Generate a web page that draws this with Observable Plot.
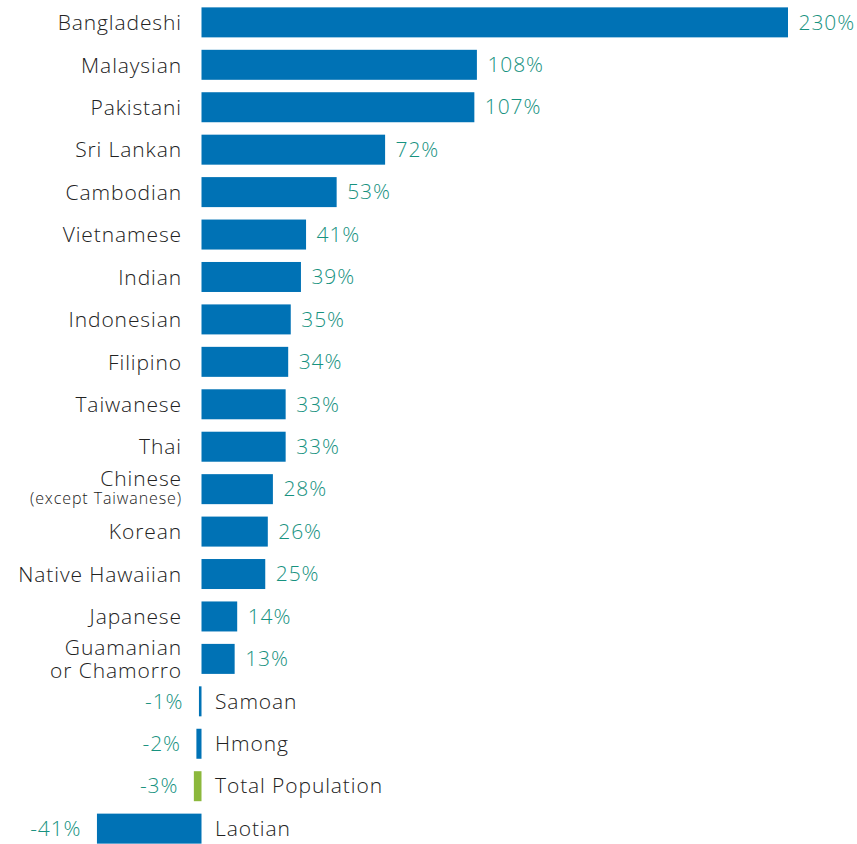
<!DOCTYPE html>
<html>
<head>
<meta charset="utf-8">
<script src="https://cdn.jsdelivr.net/npm/d3@7"></script>
<script src="https://cdn.jsdelivr.net/npm/@observablehq/plot@0.6"></script>
<style>
  html, body { margin: 0; padding: 0; background: #fff; }
  #chart svg { display: block; }
</style>
</head>
<body>
<div id="chart"></div>
<script>
const categories = ["Bangladeshi","Malaysian","Pakistani","Sri Lankan","Cambodian","Vietnamese","Indian","Indonesian","Filipino","Taiwanese","Thai","Chinese","Korean","Native Hawaiian","Japanese","Guamanian\nor Chamorro","Samoan","Hmong","Total Population","Laotian"];
const values = [230,108,107,72,53,41,39,35,34,33,33,28,26,25,14,13,-1,-2,-3,-41];
const sublabels = {"Chinese": "(except Taiwanese)"};
const highlight = "Total Population";

const data = categories.map((c, i) => ({cat: c, value: values[i], label: `${values[i]}%`, sub: sublabels[c] || null}));
const pos = data.filter(d => d.value >= 0);
const neg = data.filter(d => d.value < 0);
const main = pos.filter(d => !d.sub);
const withSub = pos.filter(d => d.sub);

const font = "'Open Sans', 'Noto Sans', sans-serif";
const chart = Plot.plot({
  width: 857,
  height: 844,
  marginTop: 0, marginBottom: 0, marginLeft: 0, marginRight: 0,
  style: {fontFamily: font, background: "#fff", fontWeight: 300, letterSpacing: "0.9px"},
  x: {domain: [0, 230], range: [201.5, 788], axis: null},
  y: {domain: categories, range: [1, 850], paddingInner: 0.293, paddingOuter: 0.15, round: false, axis: null},
  marks: [
    Plot.barX(data, {x: "value", y: "cat", fill: d => d.cat === highlight ? "#8cb83c" : "#0072b5"}),
    // positive rows: category at left, value after bar
    Plot.text(main, {x: 0, y: "cat", text: "cat", dx: -20, textAnchor: "end", fontSize: 21, fill: "#222", lineHeight: 1.08}),
    Plot.text(withSub, {x: 0, y: "cat", text: "cat", dx: -20, dy: -10, textAnchor: "end", fontSize: 21, fill: "#222"}),
    Plot.text(withSub, {x: 0, y: "cat", text: "sub", dx: -20, dy: 9, textAnchor: "end", fontSize: 16, fill: "#222"}),
    Plot.text(pos, {x: "value", y: "cat", text: "label", dx: 10, textAnchor: "start", fontSize: 21, fill: "#17927f"}),
    // negative rows: value at left of bar, category after zero
    Plot.text(neg, {x: "value", y: "cat", text: "label", dx: -16, textAnchor: "end", fontSize: 21, fill: "#17927f"}),
    Plot.text(neg, {x: 0, y: "cat", text: "cat", dx: 13, textAnchor: "start", fontSize: 21, fill: "#222"})
  ]
});
document.getElementById("chart").append(chart);
</script>
</body>
</html>
